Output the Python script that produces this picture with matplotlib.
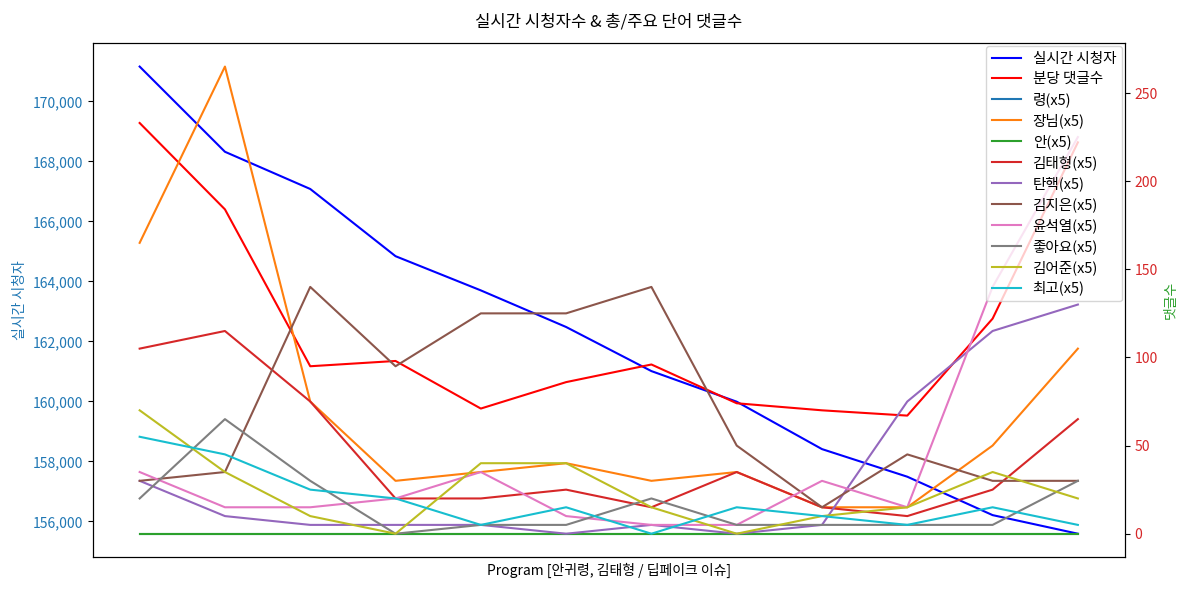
import matplotlib
matplotlib.use("Agg")
import matplotlib.pyplot as plt
import matplotlib.ticker as mticker
import numpy as np

plt.rcParams['font.family'] = ['Noto Sans CJK KR', 'DejaVu Sans']
plt.rcParams['axes.unicode_minus'] = False

# 12 program segments
x = np.arange(12)

viewers = [171160, 168320, 167080, 164840, 163700, 162480, 161010, 159990, 158410, 157490, 156210, 155590]
comments_per_min = [233, 184, 95, 98, 71, 86, 96, 74, 70, 67, 122, 222]

words = ['령', '장님', '안', '김태형', '탄핵', '김지은', '윤석열', '좋아요', '김어준', '최고']
word_counts = {
    '령':     [0, 0, 0, 0, 0, 0, 0, 0, 0, 0, 0, 0],
    '장님':   [165, 265, 75, 30, 35, 40, 30, 35, 15, 15, 50, 105],
    '안':     [0, 0, 0, 0, 0, 0, 0, 0, 0, 0, 0, 0],
    '김태형': [105, 115, 75, 20, 20, 25, 15, 35, 15, 10, 25, 65],
    '탄핵':   [30, 10, 5, 5, 5, 0, 5, 0, 5, 75, 115, 130],
    '김지은': [30, 35, 140, 95, 125, 125, 140, 50, 15, 45, 30, 30],
    '윤석열': [35, 15, 15, 20, 35, 10, 5, 5, 30, 15, 140, 225],
    '좋아요': [20, 65, 30, 0, 5, 5, 20, 5, 5, 5, 5, 30],
    '김어준': [70, 35, 10, 0, 40, 40, 15, 0, 10, 15, 35, 20],
    '최고':   [55, 45, 25, 20, 5, 15, 0, 15, 10, 5, 15, 5],
}

fig, ax1 = plt.subplots(figsize=(11.89, 5.92), dpi=100)

l1, = ax1.plot(x, viewers, color='blue', lw=1.5, label='실시간 시청자')
ax1.set_ylabel('실시간 시청자', color='tab:blue')
ax1.tick_params(axis='y', labelcolor='tab:blue')
ax1.yaxis.set_major_formatter(mticker.FuncFormatter(lambda v, p: f'{int(v):,}'))
ax1.set_xlabel('Program [안귀령, 김태형 / 딥페이크 이슈]')
ax1.set_xticks([])

ax2 = ax1.twinx()
handles = [l1]
l2, = ax2.plot(x, comments_per_min, color='red', lw=1.5, label='분당 댓글수')
handles.append(l2)
colors = plt.rcParams['axes.prop_cycle'].by_key()['color']
for i, w in enumerate(words):
    h, = ax2.plot(x, word_counts[w], color=colors[i % len(colors)], lw=1.5, label=f'{w}(x5)')
    handles.append(h)
ax2.set_ylabel('댓글수', color='tab:green')
ax2.tick_params(axis='y', labelcolor='tab:red')

ax2.legend(handles=handles, labels=[h.get_label() for h in handles], loc='upper right',
           borderaxespad=0.2, labelspacing=0.42, fontsize=10.5)
plt.title('실시간 시청자수 & 총/주요 단어 댓글수', pad=12)
fig.subplots_adjust(left=0.078, right=0.946, top=0.927, bottom=0.059)
fig.savefig('out.png')
